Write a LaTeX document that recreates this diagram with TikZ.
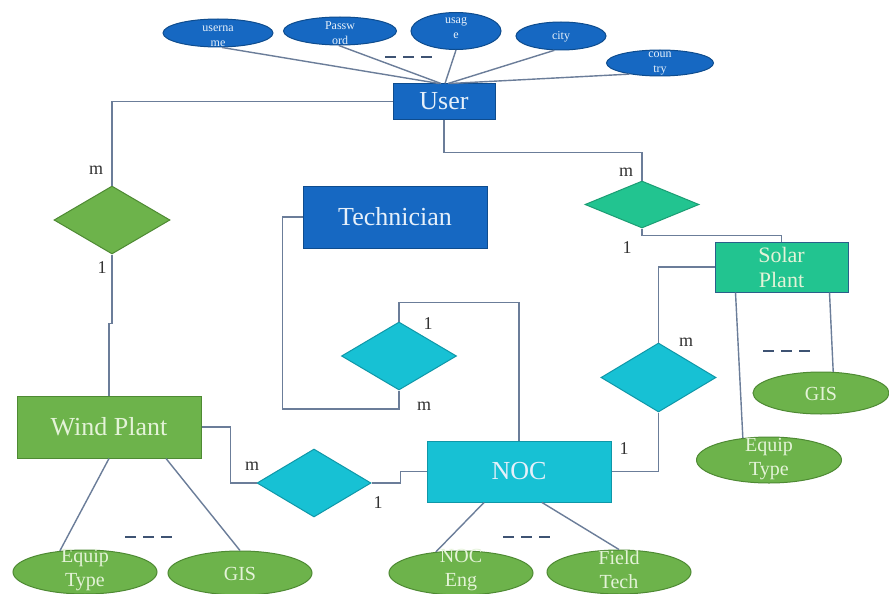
\documentclass[tikz,border=0pt]{standalone}
\usepackage{fontspec}
\setmainfont{Liberation Serif}
\usetikzlibrary{shapes.geometric,calc}
\definecolor{dblue}{HTML}{1668C2}
\definecolor{dblueb}{HTML}{0E4C8E}
\definecolor{wgreen}{HTML}{6DB34B}
\definecolor{wgreenb}{HTML}{4E8A33}
\definecolor{ncyan}{HTML}{17C1D4}
\definecolor{ncyanb}{HTML}{0F97A8}
\definecolor{sgreen}{HTML}{22C490}
\definecolor{sgreenb}{HTML}{2A5F8A}
\definecolor{lnc}{HTML}{6B7D99}
\definecolor{txtl}{HTML}{E6F0FA}
\definecolor{txtg}{HTML}{E4F3D8}
\definecolor{dashc}{HTML}{3E5373}
\begin{document}
\begin{tikzpicture}[x=1pt,y=-1pt,
  entity/.style={rectangle, draw, line width=1pt, inner sep=0pt, align=center,
    font=\fontsize{26}{28}\selectfont},
  rel/.style={diamond, draw, line width=1pt, inner sep=0pt},
  attr/.style={ellipse, draw, line width=1pt, inner sep=0pt},
  toptxt/.style={align=center, text=txtl, font=\fontsize{12}{15}\selectfont, inner sep=0pt},
  bottxt/.style={align=center, text=txtg, font=\fontsize{20}{24}\selectfont, inner sep=0pt},
  conn/.style={draw=lnc, line width=1.4pt},
  card/.style={font=\fontsize{18}{18}\selectfont, text=black!80, inner sep=0pt},
  dashmark/.style={draw=dashc, line width=2.6pt, dash pattern=on 11pt off 7pt}]
\useasboundingbox (0,0) rectangle (889,594);
\fill[white] (0,0) rectangle (889,594);

% entities
\node[entity, fill=dblue, draw=dblueb, text=txtl, minimum width=102pt, minimum height=35pt] (user) at (444,101.5) {User};
\node[entity, fill=dblue, draw=dblueb, text=txtl, minimum width=184pt, minimum height=62pt] (tech) at (395,217) {Technician};
\node[entity, fill=wgreen, draw=wgreenb, text=txtg, minimum width=184pt, minimum height=62pt] (wind) at (109,427) {Wind Plant};
\node[entity, fill=ncyan, draw=ncyanb, text=txtl, minimum width=184pt, minimum height=61pt] (noc) at (519,471.5) {NOC};
\node[entity, fill=sgreen, draw=sgreenb, text=txtg, minimum width=133pt, minimum height=50pt,
  font=\fontsize{22}{29}\selectfont] (solar) at (781.5,267) {Solar\\[-4pt]Plant};

% relationships
\node[rel, fill=wgreen, draw=wgreenb, minimum width=116pt, minimum height=68pt] (d1) at (112,220) {};
\node[rel, fill=ncyan, draw=ncyanb, minimum width=115pt, minimum height=68pt] (d2) at (399,356) {};
\node[rel, fill=ncyan, draw=ncyanb, minimum width=114pt, minimum height=68pt] (d3) at (314,483) {};
\node[rel, fill=sgreen, draw=sgreen!80!black, minimum width=114pt, minimum height=47pt] (d4) at (642,204.5) {};
\node[rel, fill=ncyan, draw=ncyanb, minimum width=115pt, minimum height=69pt] (d5) at (658.5,377.5) {};

% user attributes
\node[attr, fill=dblue, draw=dblueb, minimum width=110pt, minimum height=28pt] (a1) at (218,33) {};
\node[attr, fill=dblue, draw=dblueb, minimum width=113pt, minimum height=28pt] (a2) at (340,31) {};
\node[attr, fill=dblue, draw=dblueb, minimum width=90pt, minimum height=37pt] (a3) at (456,31) {};
\node[attr, fill=dblue, draw=dblueb, minimum width=90pt, minimum height=28pt] (a4) at (561,36) {};
\node[attr, fill=dblue, draw=dblueb, minimum width=107pt, minimum height=26pt] (a5) at (660,63) {};
\node[toptxt] (a1t) at (218,36) {userna\\me};
\node[toptxt] (a2t) at (340,33) {Passw\\ord};
\node[toptxt] (a3t) at (456,28) {usag\\e};
\node[toptxt] (a4t) at (561,37) {city};
\node[toptxt] (a5t) at (660,63) {coun\\try};

% other attributes
\node[attr, fill=wgreen, draw=wgreenb, minimum width=144pt, minimum height=44pt] (we) at (85,572) {};
\node[attr, fill=wgreen, draw=wgreenb, minimum width=144pt, minimum height=44pt] (wg) at (240,573) {};
\node[attr, fill=wgreen, draw=wgreenb, minimum width=144pt, minimum height=44pt] (ne) at (461,573) {};
\node[attr, fill=wgreen, draw=wgreenb, minimum width=144pt, minimum height=44pt] (nf) at (619,572) {};
\node[attr, fill=wgreen, draw=wgreenb, minimum width=136pt, minimum height=42pt] (sg) at (821,393) {};
\node[attr, fill=wgreen, draw=wgreenb, minimum width=145pt, minimum height=46pt] (se) at (769,460) {};
\node[bottxt] (wet) at (85,570) {Equip\\Type};
\node[bottxt] (wgt) at (240,574) {GIS};
\node[bottxt] (net) at (461,570) {NOC\\Eng};
\node[bottxt] (nft) at (619,570) {Field\\Tech};
\node[bottxt] (sgt) at (821,394) {GIS};
\node[bottxt] (set) at (769,459) {Equip\\Type};

% connectors
\draw[conn] (user.west) -| (d1.north);
\draw[conn] (d1.south) -- ++(0,69) -| (wind.north);
\draw[conn] (wind.east) -- ++(29,0) |- (d3.west);
\draw[conn] (d3.east) -- ++(29,0) |- (noc.west);
\draw[conn] (tech.west) -- ++(-20,0) -- ++(0,192) -| (d2.south);
\draw[conn] (d2.north) -- ++(0,-19) -| (noc.north);
\draw[conn] (user.south) -- ++(0,33) -| (d4.north);
\draw[conn] (d4.south) -- ++(0,7) -| (solar.north);
\draw[conn] (solar.west) -| (d5.north);
\draw[conn] (d5.south) |- (noc.east);

\draw[conn] (a1.-75) -- ([xshift=-5pt]user.north);
\draw[conn] (a2.-95) -- ([xshift=-3pt]user.north);
\draw[conn] (a3.south) -- ([xshift=1pt]user.north);
\draw[conn] (a4.-115) -- ([xshift=4pt]user.north);
\draw[conn] (a5.200) -- ([xshift=6pt]user.north);

\draw[conn] (wind.south) -- (we.140);
\draw[conn] ([xshift=57pt]wind.south) -- (wg.north);
\draw[conn] ([xshift=-35pt]noc.south) -- (ne.140);
\draw[conn] ([xshift=23pt]noc.south) -- (nf.north);
\draw[conn] ([xshift=-46pt]solar.south) -- (se.140);
\draw[conn] ([xshift=48pt]solar.south) -- (sg.60);

% cardinalities
\node[card] (c1) at (96,170) {m};
\node[card] (c2) at (102,268) {1};
\node[card] (c3) at (252,466) {m};
\node[card] (c4) at (378,503) {1};
\node[card] (c5) at (424,406) {m};
\node[card] (c6) at (428,324) {1};
\node[card] (c7) at (626,172) {m};
\node[card] (c8) at (627,248) {1};
\node[card] (c9) at (686,342) {m};
\node[card] (c10) at (624,449) {1};

% ellipsis marks
\draw[dashmark] (385,57) -- (437,57);
\draw[dashmark] (125,537) -- (177,537);
\draw[dashmark] (503,537) -- (555,537);
\draw[dashmark] (763,351) -- (815,351);
\end{tikzpicture}
\end{document}
